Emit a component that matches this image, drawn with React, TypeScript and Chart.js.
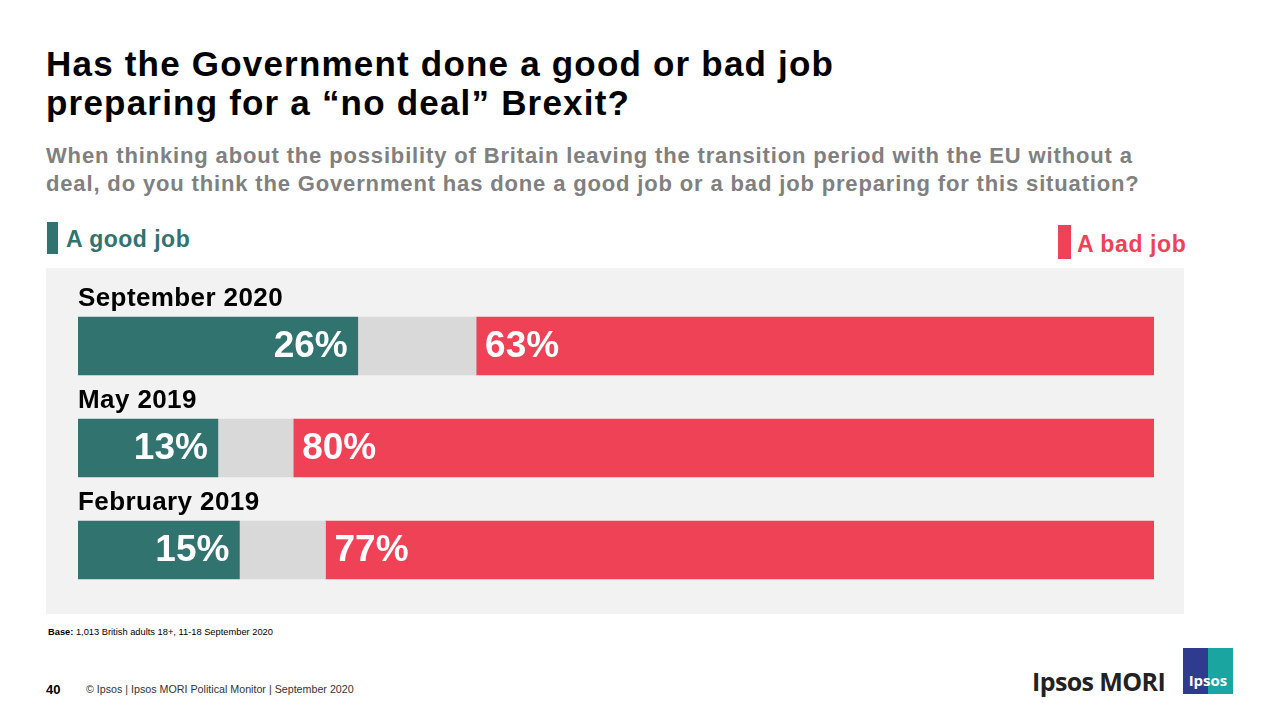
import React, { useEffect, useRef } from "react";
import { Chart, registerables } from "chart.js";

Chart.register(...registerables);

const categories = ["September 2020", "May 2019", "February 2019"];
const goodJob = [26, 13, 15];
const dontKnow = [11, 7, 8];
const badJob = [63, 80, 77];
const seriesNames = ["A good job", "Don't know", "A bad job"];

const TEAL = "#31736f";
const RED = "#f04257";
const GREY = "#d9d9d9";
const FONT = "'Liberation Sans', Arial, sans-serif";

const labelPlugin = {
  id: "labels",
  afterDatasetsDraw(chart: any) {
    const ctx = chart.ctx;
    ctx.save();
    const good = chart.getDatasetMeta(0);
    const bad = chart.getDatasetMeta(2);
    good.data.forEach((el: any, i: number) => {
      // category label
      ctx.fillStyle = "#000";
      ctx.font = `bold 26px ${FONT}`;
      ctx.textAlign = "left";
      ctx.textBaseline = "alphabetic";
      try { (ctx as any).letterSpacing = "0.4px"; } catch (e) {}
      ctx.fillText(categories[i], chart.chartArea.left, el.y - el.height / 2 - 11);
      try { (ctx as any).letterSpacing = "0px"; } catch (e) {}
      // values
      ctx.fillStyle = "#fff";
      ctx.font = `bold 37px ${FONT}`;
      ctx.textBaseline = "middle";
      ctx.textAlign = "right";
      ctx.fillText(goodJob[i] + "%", el.x - 10, el.y + 1);
      const b = bad.data[i];
      ctx.textAlign = "left";
      ctx.fillText(badJob[i] + "%", b.base + 9, b.y + 1);
    });
    ctx.restore();
  },
};

function BarChart() {
  const ref = useRef<HTMLCanvasElement>(null);
  useEffect(() => {
    if (!ref.current) return;
    const chart = new Chart(ref.current, {
      type: "bar",
      data: {
        labels: categories,
        datasets: [
          { label: seriesNames[0], data: goodJob, backgroundColor: TEAL },
          { label: seriesNames[1], data: dontKnow, backgroundColor: GREY },
          { label: seriesNames[2], data: badJob, backgroundColor: RED },
        ],
      },
      options: {
        indexAxis: "y",
        animation: false,
        responsive: false,
        maintainAspectRatio: false,
        layout: { padding: { left: 32, right: 30, top: 27, bottom: 13 } },
        datasets: { bar: { barThickness: 58, borderWidth: 0 } },
        scales: {
          x: { stacked: true, min: 0, max: 100, display: false },
          y: { stacked: true, display: false },
        },
        plugins: { legend: { display: false }, tooltip: { enabled: false } },
      } as any,
      plugins: [labelPlugin],
    });
    return () => chart.destroy();
  }, []);
  return (
    <canvas
      ref={ref}
      width={1138}
      height={346}
      style={{ position: "absolute", left: 46, top: 268, width: 1138, height: 346, background: "#f2f2f2" }}
    />
  );
}

export default function App() {
  return (
    <div style={{ position: "fixed", left: 0, top: 0, width: 1280, height: 720, background: "#fff", fontFamily: FONT, overflow: "hidden" }}>
      <div style={{ position: "absolute", left: 46, top: 44, fontSize: 35, fontWeight: "bold", lineHeight: "39px", letterSpacing: 1.2, color: "#000", whiteSpace: "nowrap" }}>
        Has the Government done a good or bad job
        <br />
        preparing for a “no deal” Brexit?
      </div>
      <div style={{ position: "absolute", left: 46, top: 142, fontSize: 22, fontWeight: "bold", lineHeight: "28px", letterSpacing: 0.85, color: "#808080", whiteSpace: "nowrap" }}>
        When thinking about the possibility of Britain leaving the transition period with the EU without a
        <br />
        deal, do you think the Government has done a good job or a bad job preparing for this situation?
      </div>
      <div style={{ position: "absolute", left: 47, top: 222, width: 11, height: 32, background: TEAL }} />
      <div style={{ position: "absolute", left: 66, top: 225, fontSize: 23, fontWeight: "bold", color: TEAL, lineHeight: "28px", letterSpacing: 0.5, whiteSpace: "nowrap" }}>
        {seriesNames[0]}
      </div>
      <div style={{ position: "absolute", left: 1058, top: 225, width: 13, height: 34, background: RED }} />
      <div style={{ position: "absolute", left: 1077, top: 230, fontSize: 23, fontWeight: "bold", color: RED, lineHeight: "28px", letterSpacing: 0.6, whiteSpace: "nowrap" }}>
        {seriesNames[2]}
      </div>
      <BarChart />
      <div style={{ position: "absolute", left: 48, top: 627, fontSize: 9.3, color: "#000", whiteSpace: "nowrap" }}>
        <b>Base:</b> 1,013 British adults 18+, 11-18 September 2020
      </div>
      <div style={{ position: "absolute", left: 46, top: 682, fontSize: 13, fontWeight: "bold", color: "#000" }}>40</div>
      <div style={{ position: "absolute", left: 86, top: 683, fontSize: 10.7, color: "#333", whiteSpace: "nowrap" }}>
        © Ipsos | Ipsos MORI Political Monitor | September 2020
      </div>
      <div style={{ position: "absolute", left: 1032, top: 664, fontSize: 25, fontWeight: "bold", color: "#222", fontFamily: "'Open Sans', sans-serif", letterSpacing: -0.6, whiteSpace: "nowrap" }}>
        Ipsos MORI
      </div>
      <div style={{ position: "absolute", left: 1183, top: 648, width: 50, height: 46, background: "linear-gradient(90deg, #2e3b8e 0 50%, #1aa5a0 50% 100%)" }}>
        <div style={{ position: "absolute", left: 0, right: 0, top: 22, textAlign: "center", color: "#fff", fontSize: 15, fontWeight: "bold", fontFamily: "'Open Sans', sans-serif" }}>
          Ipsos
        </div>
      </div>
    </div>
  );
}
